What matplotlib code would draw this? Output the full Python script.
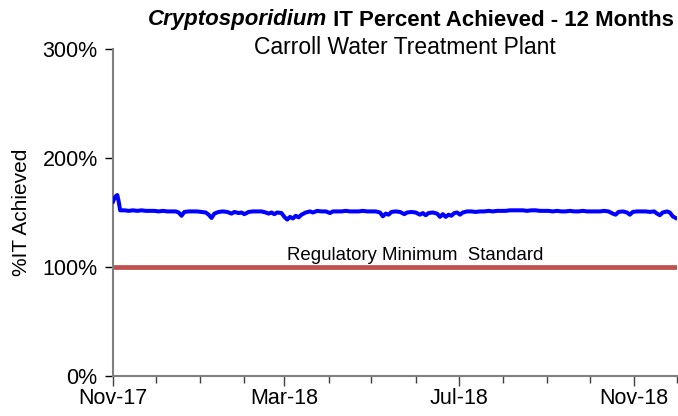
import matplotlib
matplotlib.use("Agg")
import matplotlib.pyplot as plt
import matplotlib.dates as mdates
import pandas as pd
import numpy as np

plt.rcParams['font.family'] = ['Liberation Sans', 'DejaVu Sans']

start_date = "2017-11-01"
day_offsets = [0, 1, 2, 3, 4, 5, 8, 11, 14, 17, 20, 23, 26, 29, 32, 35, 38, 41, 44, 46, 48, 50, 53, 56, 59, 62, 65, 67, 69, 71, 74, 77, 80, 83, 85, 88, 90, 92, 95, 98, 101, 104, 107, 109, 111, 113, 115, 118, 120, 122, 124, 126, 128, 130, 132, 135, 138, 140, 143, 146, 149, 152, 154, 157, 160, 163, 166, 169, 172, 175, 178, 181, 184, 187, 189, 191, 193, 195, 198, 201, 204, 206, 209, 212, 215, 217, 219, 221, 224, 227, 229, 231, 233, 235, 237, 239, 241, 243, 245, 248, 251, 254, 257, 260, 263, 266, 269, 272, 275, 278, 281, 284, 287, 290, 293, 296, 299, 302, 305, 308, 311, 314, 317, 320, 323, 326, 329, 332, 335, 338, 341, 344, 347, 350, 352, 354, 357, 360, 362, 364, 367, 370, 373, 376, 379, 381, 383, 385, 388, 390, 392, 394]
it_percent = [160, 163, 165, 166, 160, 152, 152, 151.5, 152, 151.5, 152, 151.5, 151.5, 151.5, 151, 151.5, 151, 151, 151, 150, 147, 150.5, 151, 151, 151, 150.5, 150, 148, 145, 149, 150.5, 151, 150.5, 149, 150.5, 149.5, 150, 148.5, 150.5, 151, 151, 151, 150, 149, 150, 148.5, 150, 149.5, 146, 143.5, 146, 144.5, 147, 145.5, 148, 150, 151, 150, 151.5, 151, 151, 149.5, 151, 151, 151, 151.5, 151, 151, 151, 151.5, 151, 151, 151, 150, 146.5, 149, 148, 150.5, 151, 150.5, 148.5, 150, 150.5, 150, 148, 149.5, 147.5, 149.5, 150, 149, 146, 148.5, 146, 148, 147, 149.5, 150, 148, 150, 151, 151, 150.5, 151, 151, 151.5, 151, 151.5, 151.5, 151.5, 152, 152, 152, 152, 151.5, 152, 152, 151.5, 151.5, 151.5, 151, 151.5, 151, 151, 151.5, 151, 151, 151.5, 151, 151, 151, 151, 151.5, 151, 149, 148, 150.5, 151, 150, 148, 150.5, 151, 151, 151, 150.5, 151, 149, 147.5, 150, 151, 150, 146.5, 145]
regulatory_minimum = 100
x_start = "2017-11-01"
x_end = "2018-12-01"
y_ticks = [0, 100, 200, 300]
title_italic = "Cryptosporidium"
title_rest = " IT Percent Achieved - 12 Months"
subtitle = "Carroll Water Treatment Plant"
ylabel = "%IT Achieved"
reg_label = "Regulatory Minimum  Standard"

dates = pd.Timestamp(start_date) + pd.to_timedelta(day_offsets, unit="D")

fig = plt.figure(figsize=(6.78, 4.16), dpi=100)
ax = fig.add_axes([113/678, 1-376/416, (677-113)/678, (376-49)/416])

ax.plot([pd.Timestamp(x_start), pd.Timestamp(x_end)], [regulatory_minimum]*2,
         color="#C0504D", lw=3.4, solid_capstyle="butt", zorder=2)
ax.plot(dates, it_percent, color="#0000FF", lw=2.9, zorder=3, solid_joinstyle="round")

ax.set_xlim(pd.Timestamp(x_start), pd.Timestamp(x_end))
ax.set_ylim(0, 300)
ax.set_yticks(y_ticks)
ax.set_yticklabels([f"{v}%" for v in y_ticks])

ax.xaxis.set_major_locator(mdates.MonthLocator(bymonth=[3, 7, 11]))
ax.xaxis.set_major_formatter(mdates.DateFormatter("%b-%y"))
ax.xaxis.set_minor_locator(mdates.MonthLocator())

for s in ["top", "right"]:
    ax.spines[s].set_visible(False)
for s in ["left", "bottom"]:
    ax.spines[s].set_color("#808080")
    ax.spines[s].set_linewidth(1.5)

ax.tick_params(axis="y", direction="out", length=6, width=1, color="black", labelsize=15.5, pad=5)
ax.tick_params(axis="x", which="major", direction="out", length=7, width=1, color="#404040", labelsize=15.5, pad=2)
ax.tick_params(axis="x", which="minor", direction="out", length=5, width=1, color="#404040")

ax.set_ylabel(ylabel, fontsize=15)
ax.yaxis.set_label_coords(-0.145, 0.5)

ax.text(0.535, 103, reg_label, transform=ax.get_yaxis_transform(), ha="center", va="bottom", fontsize=13.4)

# title (two pieces)
t1 = fig.text(148/678, 1-20/416, title_italic, fontsize=16, fontweight="bold", style="italic", ha="left", va="center")
fig.canvas.draw()
ax.annotate(title_rest, xy=(1, 0), xycoords=t1, ha="left", va="bottom", fontsize=16, fontweight="bold")
fig.text(405/678, 1-47/416, subtitle, fontsize=16.5, ha="center", va="center")

fig.savefig("out.png", dpi=100)
